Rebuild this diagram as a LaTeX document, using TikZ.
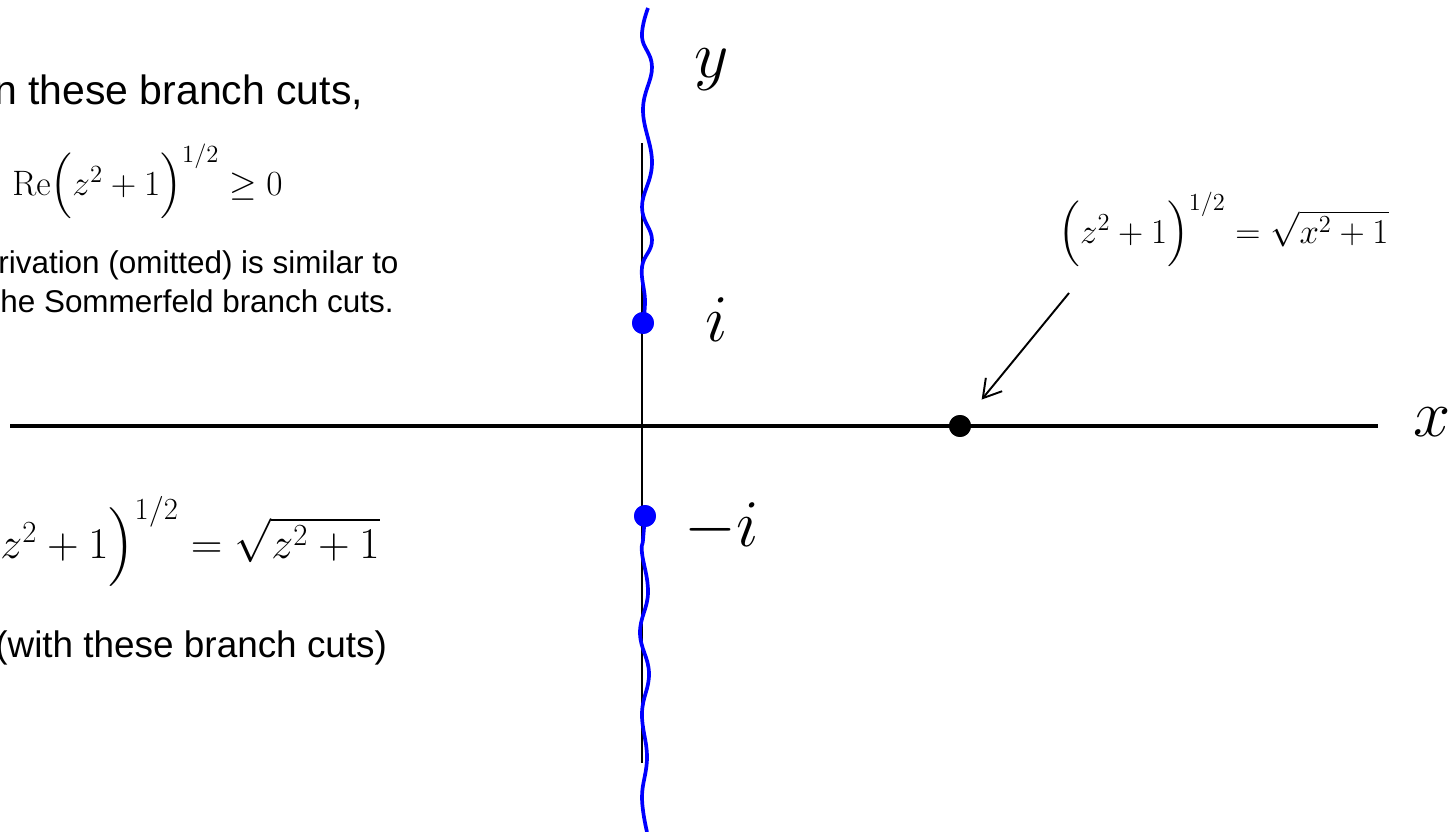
\RequirePackage{fix-cm}
\documentclass[tikz,border=0pt]{standalone}
\usepackage{amsmath}
\usepackage[no-math]{fontspec}
\setmainfont{Liberation Sans}
\usetikzlibrary{arrows.meta}

\begin{document}
\begin{tikzpicture}[
    x=0.02cm, y=-0.02cm,
    axis/.style={black, line width=2pt},
    yaxis/.style={black, line width=1.1pt},
    cut/.style={blue, line width=2.1pt},
    pole/.style={circle, fill=blue, inner sep=0pt, minimum size=12.5pt},
    point/.style={circle, fill=black, inner sep=0pt, minimum size=12.5pt},
    axlabel/.style={font=\fontsize{38}{42}\selectfont, inner sep=0pt},
    heading/.style={font=\fontsize{23.3}{28}\selectfont, anchor=base west, inner sep=0pt},
    note/.style={font=\fontsize{17.9}{22}\selectfont, anchor=base west, inner sep=0pt},
    formula/.style={anchor=base west, inner sep=0pt},
    pointer/.style={-{Straight Barb[length=10pt,width=12pt]}, line width=1.1pt, shorten >=13pt}
]
\useasboundingbox (0,0) rectangle (1451,832);

% Axes end points
\coordinate (xl) at (10,426);
\coordinate (xr) at (1378,426);
\coordinate (yt) at (642,143);
\coordinate (yb) at (642,763);

% Branch points
\node[pole] (ip) at (643,323) {};
\node[pole] (mip) at (645,516) {};
\node[point] (xp) at (960,426) {};

% Axes
\draw[yaxis] (yt) -- (yb);

% Branch cuts
\draw[cut] plot[smooth, tension=0.7] coordinates {(ip.center) (645,300) (642,267) (652,240) (642,207) (652,163) (643,110) (652,67) (642,37) (648,8)};
\draw[cut] plot[smooth, tension=0.7] coordinates {(mip.center) (643,540) (642,553) (648,593) (640,633) (649,673) (642,713) (647,757) (642,797) (647,832)};

\draw[axis] (xl) -- (xr);
\node[pole] at (ip) {};
\node[pole] at (mip) {};
\node[point] at (xp) {};

% Axis labels
\node[axlabel] (ylab) at (712,70) {$y$};
\node[axlabel] (ilab) at (717,320) {$i$};
\node[axlabel] (milab) at (722,527) {$-i$};
\node[axlabel] (xlab) at (1432,422) {$x$};

% Value on the real axis
\node[formula, font=\fontsize{19.9}{24}\selectfont] (realval) at (1058,243) {$\Bigl(z^2+1\Bigr)^{1/2}=\sqrt{x^2+1}$};
\coordinate (tail) at (1069,293);
\draw[pointer] (tail) -- (xp);

% Left texts
\node[heading] (cuts) at (-6,104) {n these branch cuts,};
\node[formula, font=\fontsize{20.1}{24}\selectfont] (recond) at (12,195) {$\mathrm{Re}\Bigl(z^2+1\Bigr)^{1/2}\ge 0$};
\node[note] (deriv1) at (-2,273) {rivation (omitted) is similar to};
\node[note] (deriv2) at (0,312) {he Sommerfeld branch cuts.};
\node[formula, font=\fontsize{25}{28}\selectfont] (sqform) at (0,558) {$z^2+1\Bigr)^{1/2}=\sqrt{z^2+1}$};
\node[heading, font=\fontsize{21}{25}\selectfont] (withcuts) at (-5,657) {(with these branch cuts)};

\end{tikzpicture}
\end{document}
